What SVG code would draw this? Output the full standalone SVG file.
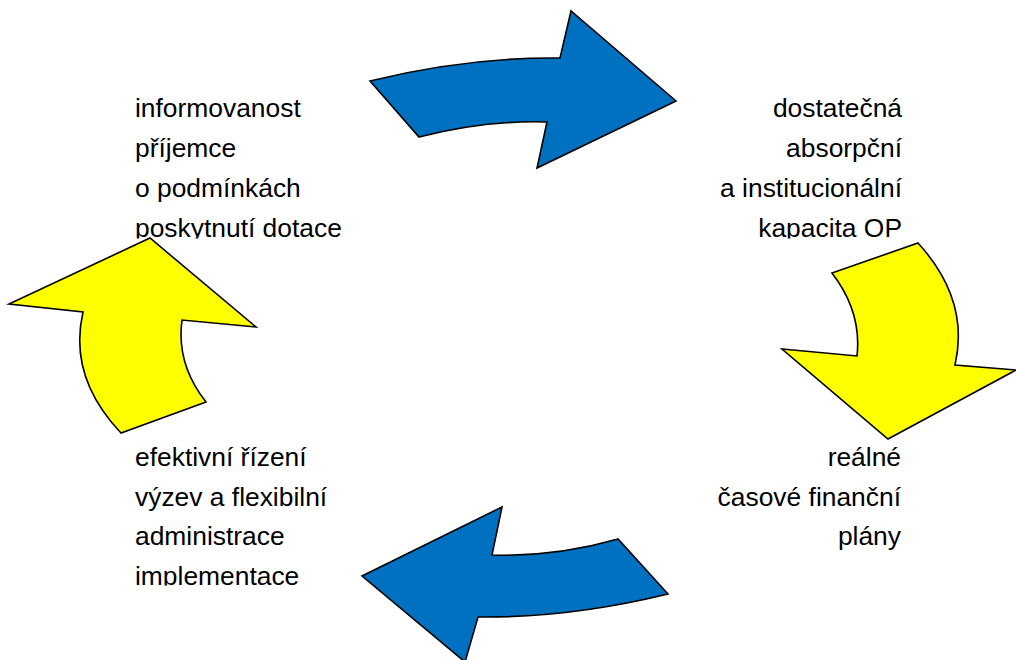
<svg xmlns="http://www.w3.org/2000/svg" width="1016" height="660" viewBox="0 0 1016 660">
<style>
.blue{fill:#0070C0;stroke:#000;stroke-width:1.6;stroke-linejoin:miter}
.yel{fill:#FFFF00;stroke:#000;stroke-width:1.6;stroke-linejoin:miter}
.t{font-family:"Liberation Sans",Arial,sans-serif;font-size:26.4px;fill:#000}
.r{text-anchor:end}
</style>
<defs>
<clipPath id="clipTop"><rect x="0" y="0" width="1016" height="238.6"/></clipPath>
<clipPath id="clipBot"><rect x="0" y="400" width="1016" height="185.6"/></clipPath>
</defs>
<rect width="1016" height="660" fill="#fff"/>
<g id="connectors">
<path id="arrow-top" class="blue" d="M370,81 Q468,57 560,58 L571,11 L676,101 L537,168 L547,122 Q485,120 419,137 Z"/>
<path id="arrow-right" class="yel" d="M832,273 L918,243 Q970,300 955,365 L1016,370 L888,439 L782,349 L857,356 Q862,312 832,273 Z"/>
<path id="arrow-bottom" class="blue" d="M668,594 Q570,618 478,617 L465,662 L362,576 L502,507 L492,555 Q555,557 618,539 Z"/>
<path id="arrow-left" class="yel" d="M206,402 L121,433 Q68,377 83,312 L9,304 L150,238 L256,327 L182,320 Q176,364 206,402 Z"/>
</g>
<g id="node-informovanost" clip-path="url(#clipTop)">
<text class="t" x="135" y="116.5">informovanost</text>
<text class="t" x="135" y="156.5">příjemce</text>
<text class="t" x="135" y="196.5">o podmínkách</text>
<text class="t" x="135" y="236.5">poskytnutí dotace</text>
</g>
<g id="node-kapacita" clip-path="url(#clipTop)">
<text class="t r" x="902" y="116.5">dostatečná</text>
<text class="t r" x="902" y="156.5">absorpční</text>
<text class="t r" x="902" y="196.5">a institucionální</text>
<text class="t r" x="902" y="236.5">kapacita OP</text>
</g>
<g id="node-plany">
<text class="t r" x="901" y="465.5">reálné</text>
<text class="t r" x="901" y="505.5">časové finanční</text>
<text class="t r" x="901" y="545">plány</text>
</g>
<g id="node-rizeni" clip-path="url(#clipBot)">
<text class="t" x="135" y="465.5">efektivní řízení</text>
<text class="t" x="135" y="505.5">výzev a flexibilní</text>
<text class="t" x="135" y="545">administrace</text>
<text class="t" x="135" y="584.5">implementace</text>
</g>
</svg>
